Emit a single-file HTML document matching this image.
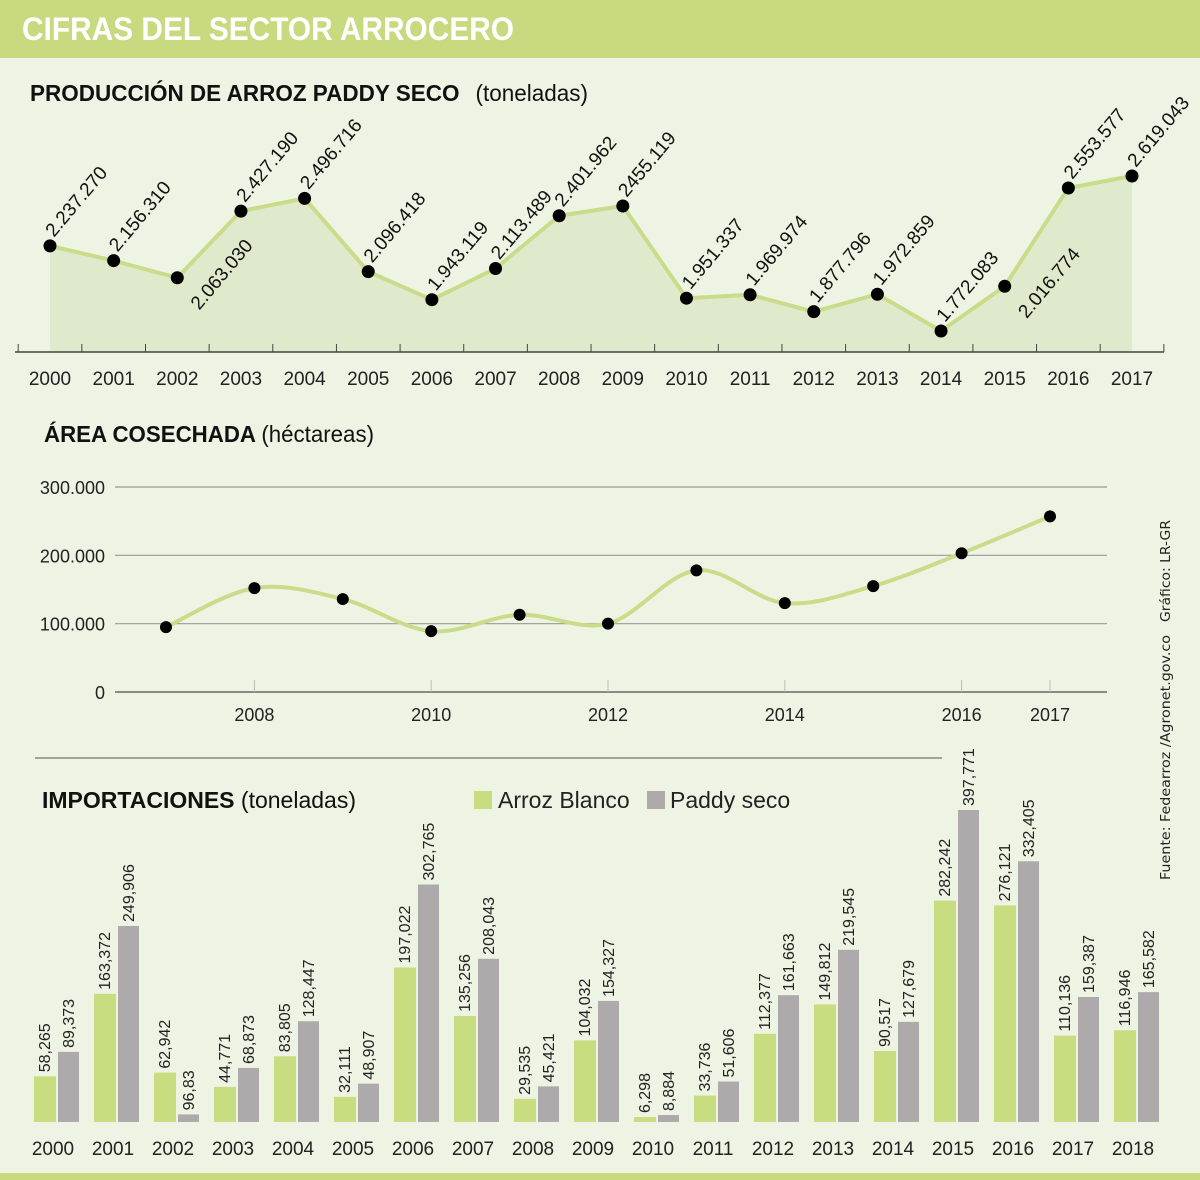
<!DOCTYPE html>
<html><head><meta charset="utf-8"><style>
html,body{margin:0;padding:0;background:#eef4e3;}
svg{display:block;font-family:"Liberation Sans Narrow","Liberation Sans",sans-serif;}
</style></head><body>
<svg id="s" width="1200" height="1180" viewBox="0 0 1200 1180" xmlns="http://www.w3.org/2000/svg">
<rect x="0" y="0" width="1200" height="1180" fill="#eef4e3"/>
<rect x="0" y="0" width="1200" height="58" fill="#c8da7f"/>
<text x="22" y="40" fill="#fff" font-family="Liberation Sans" font-weight="bold" font-size="32" textLength="492" lengthAdjust="spacingAndGlyphs">CIFRAS DEL SECTOR ARROCERO</text>
<rect x="0" y="1173" width="1200" height="7" fill="#c8da7f"/>
<text x="30" y="101" font-size="23" font-weight="bold" fill="#111" textLength="558" lengthAdjust="spacingAndGlyphs">PRODUCCIÓN DE ARROZ PADDY SECO <tspan font-weight="normal" dx="10">(toneladas)</tspan></text>
<text x="44" y="442" font-size="23" font-weight="bold" fill="#111" textLength="330" lengthAdjust="spacingAndGlyphs">ÁREA COSECHADA <tspan font-weight="normal">(héctareas)</tspan></text>
<line x1="35" y1="758" x2="942" y2="758" stroke="#555" stroke-width="1"/>
<text x="42" y="808" font-size="23" font-weight="bold" fill="#111" textLength="314" lengthAdjust="spacingAndGlyphs">IMPORTACIONES <tspan font-weight="normal">(toneladas)</tspan></text>
<rect x="474" y="791" width="18" height="18" fill="#c8dc80"/>
<text x="498" y="808" font-size="23" fill="#222">Arroz Blanco</text>
<rect x="647" y="791" width="18" height="18" fill="#aeaaab"/>
<text x="670" y="808" font-size="23" fill="#222">Paddy seco</text>
<text transform="translate(1170,880) rotate(-90)" font-family="DejaVu Sans" font-size="13" fill="#222"><tspan textLength="245" lengthAdjust="spacingAndGlyphs">Fuente: Fedearroz /Agronet.gov.co</tspan><tspan x="258" textLength="102" lengthAdjust="spacingAndGlyphs">Gráfico: LR-GR</tspan></text>
<g id="c1"></g>
<g id="c2"></g>
<g id="c3"></g>
</svg>
<script>
// ---- Chart 1 data
const prodYears=[2000,2001,2002,2003,2004,2005,2006,2007,2008,2009,2010,2011,2012,2013,2014,2015,2016,2017];
const prodValues=[2237270,2156310,2063030,2427190,2496716,2096418,1943119,2113489,2401962,2455119,1951337,1969974,1877796,1972859,1772083,2016774,2553577,2619043];
const prodLabels=["2.237.270","2.156.310","2.063.030","2.427.190","2.496.716","2.096.418","1.943.119","2.113.489","2.401.962","2455.119","1.951.337","1.969.974","1.877.796","1.972.859","1.772.083","2.016.774","2.553.577","2.619.043"];
const prodLabelBelow=[false,false,true,false,false,false,false,false,false,false,false,false,false,false,false,true,false,false];
// ---- Chart 2 data
const areaYears=[2007,2008,2009,2010,2011,2012,2013,2014,2015,2016,2017];
const areaValues=[95000,152000,136000,89000,113000,100000,178000,130000,155000,203000,257000];
const areaTicks=[0,100000,200000,300000];
const areaTickLabels=["0","100.000","200.000","300.000"];
const areaXLabels=[2008,2010,2012,2014,2016,2017];
// ---- Chart 3 data
const impYears=[2000,2001,2002,2003,2004,2005,2006,2007,2008,2009,2010,2011,2012,2013,2014,2015,2016,2017,2018];
const impBlanco=[58265,163372,62942,44771,83805,32111,197022,135256,29535,104032,6298,33736,112377,149812,90517,282242,276121,110136,116946];
const impPaddy=[89373,249906,9683,68873,128447,48907,302765,208043,45421,154327,8884,51606,161663,219545,127679,397771,332405,159387,165582];
const impBlancoLabels=["58,265","163,372","62,942","44,771","83,805","32,111","197,022","135,256","29,535","104,032","6,298","33,736","112,377","149,812","90,517","282,242","276,121","110,136","116,946"];
const impPaddyLabels=["89,373","249,906","96,83","68,873","128,447","48,907","302,765","208,043","45,421","154,327","8,884","51,606","161,663","219,545","127,679","397,771","332,405","159,387","165,582"];

const NS="http://www.w3.org/2000/svg";
function mk(parent,tag,attrs,txt){const e=document.createElementNS(NS,tag);for(const k in attrs)e.setAttribute(k,attrs[k]);if(txt!==undefined)e.textContent=txt;parent.appendChild(e);return e;}

// Chart 1
(function(){
const g=document.getElementById('c1');
const x=i=>50+i*(1132-50)/(prodYears.length-1);
const y=v=>331-(v-1772083)*(155/846960);
const base=352;
let d=`M${x(0)},${base}`;prodValues.forEach((v,i)=>d+=` L${x(i)},${y(v)}`);d+=` L${x(prodValues.length-1)},${base} Z`;
const area=mk(g,'path',{d:d,fill:'#dfeacc'});


const axis=mk(g,'line',{x1:15,y1:base,x2:1164,y2:base,stroke:'#444','stroke-width':1.5});


for(let i=0;i<=prodYears.length;i++){const tx=x(i)-31.8;const t=mk(g,'line',{x1:tx,y1:base-8,x2:tx,y2:base,stroke:'#444','stroke-width':1});

}
const ld=prodValues.map((v,i)=>`${i?'L':'M'}${x(i)},${y(v)}`).join(' ');
const line=mk(g,'path',{d:ld,fill:'none',stroke:'#c8dc8a','stroke-width':4,'stroke-linejoin':'round'});


prodValues.forEach((v,i)=>{
const c=mk(g,'circle',{cx:x(i),cy:y(v),r:6.5,fill:'#000'});


const below=prodLabelBelow[i];
const lx=below?x(i)+22:x(i)+4, ly=below?y(v)+33:y(v)-8;
const t=mk(g,'text',{x:lx,y:ly,'font-size':19,fill:'#111',transform:`rotate(-50 ${lx} ${ly})`},prodLabels[i]);


const yl=mk(g,'text',{x:x(i),y:385,'font-size':19,fill:'#222','text-anchor':'middle'},prodYears[i]);


});
})();

// Chart 2
(function(){
const g=document.getElementById('c2');
const x=yr=>166+(yr-2007)*88.4;
const y=v=>692-v*(205/300000);
areaTicks.forEach((v,i)=>{
const l=mk(g,'line',{x1:115,y1:y(v),x2:1107,y2:y(v),stroke:i===0?'#666':'#999','stroke-width':i===0?1.5:1.2});


const t=mk(g,'text',{x:105,y:y(v)+7,'font-size':18,fill:'#222','text-anchor':'end'},areaTickLabels[i]);


});
areaXLabels.forEach(yr=>{
const tk=mk(g,'line',{x1:x(yr),y1:y(0)-12,x2:x(yr),y2:y(0),stroke:'#bbb','stroke-width':1});


const t=mk(g,'text',{x:x(yr),y:721,'font-size':18,fill:'#222','text-anchor':'middle'},yr);


});
const P=areaValues.map((v,i)=>[x(areaYears[i]),y(v)]);
let d=`M${P[0][0]},${P[0][1]}`;
for(let i=0;i<P.length-1;i++){const p0=P[Math.max(0,i-1)],p1=P[i],p2=P[i+1],p3=P[Math.min(P.length-1,i+2)];
const c1=[p1[0]+(p2[0]-p0[0])/6,p1[1]+(p2[1]-p0[1])/6],c2=[p2[0]-(p3[0]-p1[0])/6,p2[1]-(p3[1]-p1[1])/6];
d+=` C${c1[0]},${c1[1]} ${c2[0]},${c2[1]} ${p2[0]},${p2[1]}`;}
const line=mk(g,'path',{d:d,fill:'none',stroke:'#c8dc8a','stroke-width':4});


P.forEach((p,i)=>{const c=mk(g,'circle',{cx:p[0],cy:p[1],r:6,fill:'#000'});

});
})();

// Chart 3
(function(){
const g=document.getElementById('c3');
const cx=i=>57+i*60;
const base=1122;
const h=v=>v*(312/397771);
impYears.forEach((yr,i)=>{
const bg=mk(g,'rect',{x:cx(i)-23,y:base-h(impBlanco[i]),width:22,height:h(impBlanco[i]),fill:'#c8dc80'});


const bp=mk(g,'rect',{x:cx(i)+1,y:base-h(impPaddy[i]),width:21,height:h(impPaddy[i]),fill:'#aeaaab'});


const lx1=cx(i)-7,ly1=base-h(impBlanco[i])-4;
const t1=mk(g,'text',{x:lx1,y:ly1,'font-size':16,fill:'#222',transform:`rotate(-90 ${lx1} ${ly1})`},impBlancoLabels[i]);


const lx2=cx(i)+17,ly2=base-h(impPaddy[i])-4;
const t2=mk(g,'text',{x:lx2,y:ly2,'font-size':16,fill:'#222',transform:`rotate(-90 ${lx2} ${ly2})`},impPaddyLabels[i]);


const yl=mk(g,'text',{x:cx(i)-4,y:1155,'font-size':19,fill:'#222','text-anchor':'middle'},yr);


});
})();
</script>
</body></html>
